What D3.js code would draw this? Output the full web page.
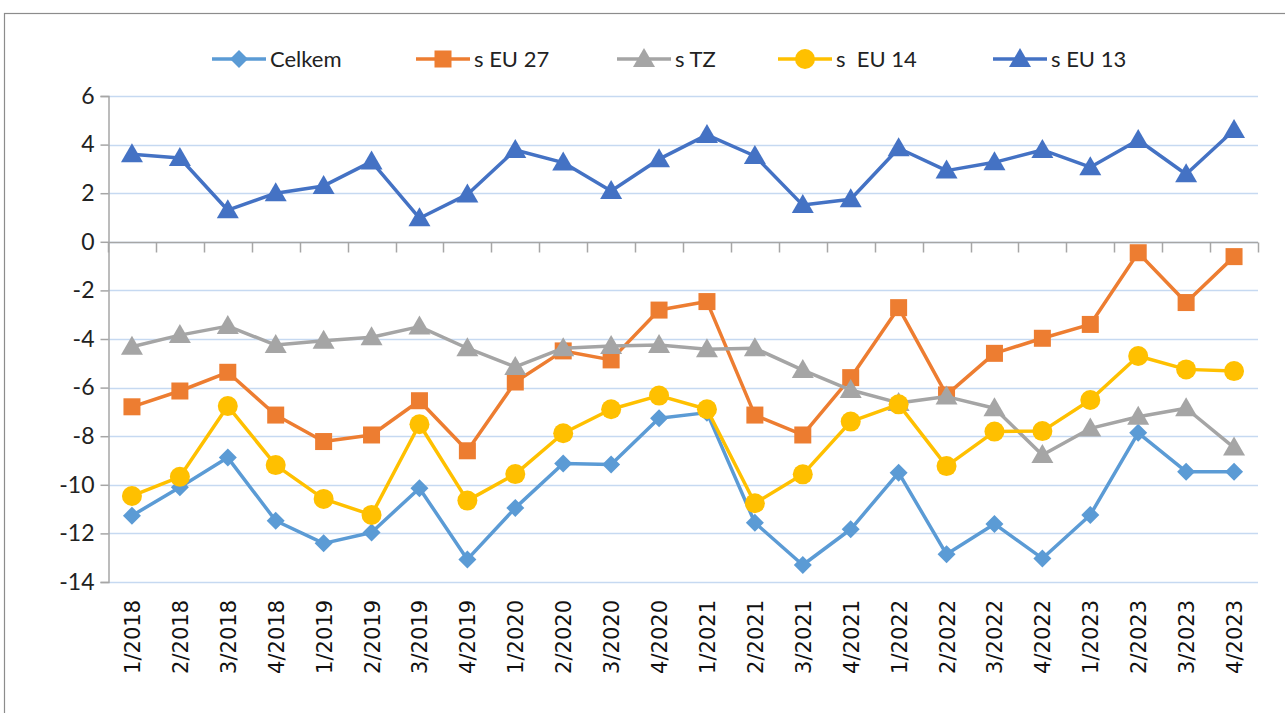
<!DOCTYPE html>
<html><head><meta charset="utf-8">
<script src="https://cdn.jsdelivr.net/npm/d3@7"></script>
<style>body{margin:0;background:#fff;}svg{display:block;}</style>
</head><body>
<svg id="c" width="1285" height="713"></svg>
<script>
const categories = ["1/2018","2/2018","3/2018","4/2018","1/2019","2/2019","3/2019","4/2019","1/2020","2/2020","3/2020","4/2020","1/2021","2/2021","3/2021","4/2021","1/2022","2/2022","3/2022","4/2022","1/2023","2/2023","3/2023","4/2023"];
const celkem = [-11.27,-10.1,-8.88,-11.48,-12.41,-11.96,-10.14,-13.07,-10.95,-9.12,-9.16,-7.26,-7.03,-11.56,-13.3,-11.83,-9.5,-12.86,-11.61,-13.03,-11.24,-7.86,-9.46,-9.46];
const sEU27 = [-6.79,-6.14,-5.37,-7.13,-8.22,-7.95,-6.54,-8.6,-5.77,-4.49,-4.86,-2.81,-2.46,-7.13,-7.95,-5.59,-2.71,-6.3,-4.59,-3.97,-3.4,-0.45,-2.5,-0.61];
const sTZ = [-4.32,-3.84,-3.47,-4.25,-4.07,-3.93,-3.49,-4.38,-5.15,-4.38,-4.29,-4.25,-4.42,-4.38,-5.28,-6.1,-6.63,-6.37,-6.85,-8.77,-7.68,-7.2,-6.85,-8.47];
const sEU14 = [-10.46,-9.67,-6.76,-9.19,-10.58,-11.24,-7.51,-10.65,-9.56,-7.88,-6.89,-6.33,-6.89,-10.76,-9.57,-7.4,-6.69,-9.23,-7.81,-7.79,-6.51,-4.7,-5.25,-5.32];
const sEU13 = [3.6,3.45,1.3,2.0,2.3,3.3,0.97,1.95,3.78,3.26,2.09,3.4,4.4,3.53,1.51,1.75,3.85,2.93,3.27,3.78,3.07,4.19,2.78,4.6];
const yTicks = [6,4,2,0,-2,-4,-6,-8,-10,-12,-14];
const seriesNames = ["Celkem","s EU 27","s TZ","s  EU 14","s EU 13"];
const seriesColors = ["#5B9BD5","#ED7D31","#A5A5A5","#FFC000","#4472C4"];
const seriesShapes = ["diamond","square","triangle","circle","triangle"];
const seriesValues = [celkem, sEU27, sTZ, sEU14, sEU13];

const svg = d3.select("#c");
const L = 108, R = 1258, T = 96, B = 582;
const x = d3.scaleBand().domain(categories).range([L, R]);
const y = d3.scaleLinear().domain([-14, 6]).range([B, T]);

// frame
svg.append("rect").attr("x",4.5).attr("y",13.5).attr("width",1300).attr("height",720)
  .attr("fill","none").attr("stroke","#8C8C8C").attr("stroke-width",1.2);

// gridlines
svg.append("g").selectAll("line").data(yTicks).join("line")
  .attr("x1",L).attr("x2",R).attr("y1",d=>Math.round(y(d))+0.5).attr("y2",d=>Math.round(y(d))+0.5)
  .attr("stroke","#C6D9F1").attr("stroke-width",1.5);

// y axis
const yAxis = svg.append("g").attr("transform",`translate(${L+0.5},0)`)
  .call(d3.axisLeft(y).tickValues(yTicks).tickSize(8).tickPadding(6).tickFormat(d3.format("d")));
yAxis.select(".domain").attr("stroke","#A6A6A6").attr("stroke-width",1.5);
yAxis.selectAll(".tick line").attr("stroke","#A6A6A6").attr("stroke-width",1.5);
yAxis.selectAll("text").attr("font-family","Lato, 'Open Sans', sans-serif").attr("font-size",23).attr("fill","#222");
yAxis.selectAll(".tick text").text(d=>d<0?"-"+Math.abs(d):d);

// x axis line at 0 with category ticks
const y0 = Math.round(y(0))+0.5;
svg.append("line").attr("x1",L).attr("x2",R).attr("y1",y0).attr("y2",y0).attr("stroke","#A6A6A6").attr("stroke-width",1.5);
const bounds = categories.map(c=>x(c)).concat([R]);
svg.append("g").selectAll("line").data(bounds).join("line")
  .attr("x1",d=>Math.round(d)+0.5).attr("x2",d=>Math.round(d)+0.5).attr("y1",y0).attr("y2",y0+10)
  .attr("stroke","#A6A6A6").attr("stroke-width",1.5);

// category labels
svg.append("g").selectAll("text").data(categories).join("text")
  .attr("transform",d=>`translate(${x(d)+x.bandwidth()/2+8},600) rotate(-90)`)
  .attr("text-anchor","end")
  .attr("font-family","'DejaVu Sans', Verdana, sans-serif").attr("font-size",21).attr("fill","#111")
  .text(d=>d);

function marker(g, shape, color, cx, cy) {
  if (shape==="diamond") g.append("path").attr("d",`M${cx},${cy-9}L${cx+9},${cy}L${cx},${cy+9}L${cx-9},${cy}Z`).attr("fill",color);
  else if (shape==="square") g.append("rect").attr("x",cx-8.5).attr("y",cy-8.5).attr("width",17).attr("height",17).attr("fill",color);
  else if (shape==="circle") g.append("circle").attr("cx",cx).attr("cy",cy).attr("r",10).attr("fill",color);
  else g.append("path").attr("d",`M${cx},${cy-11}L${cx+11},${cy+8}L${cx-11},${cy+8}Z`).attr("fill",color);
}

const line = d3.line().x((d,i)=>x(categories[i])+x.bandwidth()/2).y(d=>y(d));
seriesValues.forEach((vals,si)=>{
  const g = svg.append("g");
  g.append("path").datum(vals).attr("d",line).attr("fill","none")
    .attr("stroke",seriesColors[si]).attr("stroke-width",3.5).attr("stroke-linejoin","round");
  vals.forEach((v,i)=>marker(g, seriesShapes[si], seriesColors[si], x(categories[i])+x.bandwidth()/2, y(v)));
});

// legend
const legX = [212, 416, 617, 778, 993];
seriesNames.forEach((n,si)=>{
  const g = svg.append("g");
  const lx = legX[si], ly = 59;
  g.append("line").attr("x1",lx).attr("x2",lx+54).attr("y1",ly).attr("y2",ly).attr("stroke",seriesColors[si]).attr("stroke-width",3.5);
  marker(g, seriesShapes[si], seriesColors[si], lx+27, ly);
  g.append("text").attr("x",lx+58).attr("y",ly+8).attr("font-family","Lato, 'Open Sans', sans-serif")
    .attr("font-size",22).attr("fill","#222").attr("xml:space","preserve").style("white-space","pre").text(n);
});
</script>
</body></html>
